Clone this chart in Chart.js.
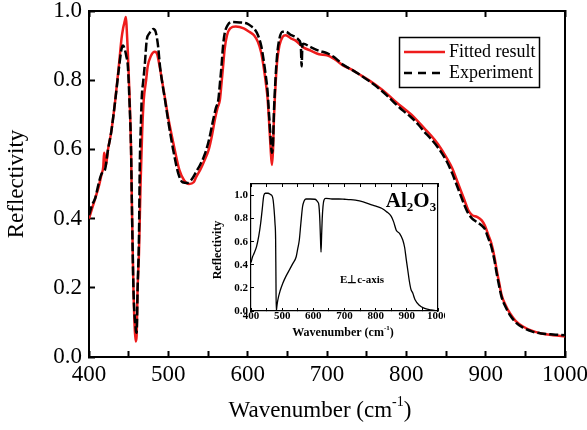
<!DOCTYPE html>
<html>
<head>
<meta charset="utf-8">
<script src="https://cdn.jsdelivr.net/npm/chart.js@4.4.1/dist/chart.umd.min.js"></script>
<style>
  body { margin: 0; background: #fff; }
  #wrap { position: relative; width: 587px; height: 430px; }
  #mainChart { position: absolute; left: 0; top: 0; }
  #insetChart { position: absolute; left: 205px; top: 178px; }
</style>
</head>
<body>
<div id="wrap">
  <canvas id="mainChart" width="587" height="430"></canvas>
  <canvas id="insetChart" width="240" height="165"></canvas>
</div>
<script>
    // Experiment (black dashed)
    const expWave = [400, 404, 408, 412, 416, 420, 424, 428, 433, 438, 441, 443, 445, 447, 449, 451, 453, 454, 456, 459, 460, 461.3, 463, 464, 465.5, 466.5, 468.5, 470.5, 472.7, 476, 481, 484, 487, 489.5, 492.5, 495.8, 500, 506, 512.6, 518, 524, 530, 535, 540, 545, 548, 552, 556, 560, 563, 565, 567, 569, 571, 575, 580, 590, 600, 605, 608, 613, 617, 620, 623, 625, 627, 629, 630.5, 632, 633, 635, 637, 640, 644, 648, 655, 660, 665, 667, 668, 669, 670, 680, 690, 700, 710, 720, 730, 740, 754, 765, 775, 788, 797, 805, 815, 823, 830, 840, 851, 858, 863, 868, 873, 878, 883, 889, 895, 899, 903, 907, 911, 914, 917, 920, 925, 931, 938, 947, 958, 970, 985, 1000];
    const expRefl = [0.41, 0.44, 0.46, 0.50, 0.53, 0.54, 0.60, 0.65, 0.74, 0.84, 0.89, 0.90, 0.89, 0.87, 0.84, 0.74, 0.60, 0.45, 0.20, 0.08, 0.07, 0.20, 0.35, 0.55, 0.68, 0.75, 0.80, 0.85, 0.915, 0.935, 0.948, 0.94, 0.90, 0.84, 0.79, 0.743, 0.68, 0.60, 0.53, 0.505, 0.503, 0.515, 0.535, 0.555, 0.58, 0.60, 0.635, 0.68, 0.72, 0.743, 0.79, 0.84, 0.90, 0.935, 0.96, 0.968, 0.967, 0.963, 0.955, 0.95, 0.93, 0.90, 0.86, 0.81, 0.77, 0.70, 0.63, 0.59, 0.62, 0.70, 0.80, 0.87, 0.92, 0.94, 0.94, 0.93, 0.925, 0.915, 0.90, 0.84, 0.90, 0.905, 0.895, 0.885, 0.878, 0.865, 0.845, 0.832, 0.818, 0.796, 0.777, 0.757, 0.728, 0.71, 0.695, 0.672, 0.65, 0.633, 0.605, 0.565, 0.53, 0.50, 0.47, 0.44, 0.415, 0.40, 0.39, 0.38, 0.37, 0.345, 0.32, 0.28, 0.24, 0.205, 0.174, 0.145, 0.12, 0.10, 0.085, 0.074, 0.068, 0.065, 0.063];

    // Fitted result (red solid)
    const fitWave = [400, 404, 408, 412, 416, 418, 419, 420, 421, 424, 428, 433, 438, 441, 443, 445, 446.5, 447.5, 449, 451, 453, 454, 456, 459, 460, 461.3, 463, 465, 467, 469, 472, 474, 478, 483, 486, 489, 492, 496, 500, 508, 514, 520, 526, 532, 535, 540, 545, 551, 555, 559, 562, 565, 567, 569, 571, 574, 578, 585, 595, 602, 608, 613, 617, 620, 623, 625, 627, 629, 630.5, 632, 633, 635, 637, 640, 644, 648, 655, 660, 665, 670, 680, 690, 700, 710, 720, 730, 740, 754, 765, 775, 788, 797, 805, 815, 823, 830, 840, 851, 858, 863, 868, 873, 878, 883, 889, 895, 899, 903, 907, 911, 914, 917, 920, 925, 931, 938, 947, 958, 970, 985, 1000];
    const fitRefl = [0.40, 0.43, 0.46, 0.49, 0.53, 0.55, 0.59, 0.58, 0.55, 0.60, 0.65, 0.74, 0.85, 0.92, 0.95, 0.97, 0.983, 0.95, 0.88, 0.76, 0.60, 0.45, 0.20, 0.045, 0.06, 0.20, 0.30, 0.50, 0.65, 0.743, 0.80, 0.84, 0.87, 0.882, 0.875, 0.84, 0.80, 0.745, 0.69, 0.60, 0.54, 0.51, 0.50, 0.505, 0.52, 0.54, 0.565, 0.60, 0.64, 0.69, 0.72, 0.743, 0.79, 0.84, 0.89, 0.93, 0.95, 0.955, 0.95, 0.94, 0.93, 0.91, 0.88, 0.84, 0.79, 0.75, 0.68, 0.60, 0.555, 0.60, 0.68, 0.78, 0.85, 0.90, 0.925, 0.93, 0.92, 0.915, 0.905, 0.895, 0.885, 0.875, 0.872, 0.86, 0.843, 0.832, 0.818, 0.798, 0.78, 0.762, 0.735, 0.718, 0.703, 0.68, 0.66, 0.643, 0.615, 0.575, 0.545, 0.515, 0.485, 0.455, 0.425, 0.41, 0.405, 0.395, 0.38, 0.355, 0.33, 0.29, 0.25, 0.215, 0.18, 0.15, 0.125, 0.104, 0.088, 0.076, 0.068, 0.063, 0.06];

    // Inset: E perpendicular to c-axis reference spectrum
    const insetWave = [400, 405, 410, 418, 425, 431, 436, 441, 446, 455, 462, 467, 470.5, 474, 477, 479, 480, 481, 483, 486, 494, 502, 512, 523, 534, 545, 550, 555, 560, 565.5, 570, 576, 590, 605, 610, 614, 617, 619, 621, 623, 624.7, 626.5, 628.5, 631, 634, 640, 660, 682, 700, 720, 735, 760, 787, 805, 819, 835, 850, 858, 866, 877, 887, 893, 898, 903, 908, 913, 919, 926, 940, 955, 977, 1000];
    const insetRefl = [0.42, 0.47, 0.50, 0.56, 0.65, 0.76, 0.88, 1.0, 1.02, 1.02, 1.01, 1.0, 0.97, 0.88, 0.76, 0.62, 0.30, 0.0, 0.04, 0.095, 0.18, 0.24, 0.30, 0.355, 0.41, 0.47, 0.54, 0.615, 0.76, 0.905, 0.95, 0.97, 0.97, 0.968, 0.96, 0.945, 0.93, 0.88, 0.78, 0.62, 0.51, 0.65, 0.80, 0.905, 0.96, 0.975, 0.97, 0.97, 0.968, 0.965, 0.96, 0.945, 0.92, 0.905, 0.89, 0.86, 0.82, 0.77, 0.70, 0.67, 0.615, 0.55, 0.45, 0.355, 0.26, 0.19, 0.155, 0.10, 0.05, 0.025, 0.01, 0.0];

    const SERIF = '"Liberation Serif", "Times New Roman", serif';
    const RED = '#ee1c1c';

    function toPoints(xs, ys) {
        return xs.map((x, i) => ({ x: x, y: ys[i] }));
    }

    // draw text made of pieces, some raised (sup) or lowered (sub)
    function drawRich(ctx, parts, cx, cy, size, weight) {
        const small = Math.round(size * 0.62);
        let total = 0;
        parts.forEach(p => {
            ctx.font = `${weight} ${p.sup || p.sub ? small : size}px ${SERIF}`;
            p.w = ctx.measureText(p.t).width;
            total += p.w;
        });
        let x = cx - total / 2;
        ctx.textAlign = 'left';
        ctx.textBaseline = 'middle';
        parts.forEach(p => {
            ctx.font = `${weight} ${p.sup || p.sub ? small : size}px ${SERIF}`;
            let y = cy;
            if (p.sup) y = cy - size * 0.38;
            if (p.sub) y = cy + size * 0.28;
            ctx.fillText(p.t, x, y);
            x += p.w;
        });
    }

    const mainDecor = {
        id: 'mainDecor',
        afterDraw(chart) {
            const ctx = chart.ctx;
            ctx.save();
            ctx.fillStyle = '#000';
            // axis titles
            drawRich(ctx, [{ t: 'Wavenumber (cm' }, { t: '-1', sup: true }, { t: ')' }], 320, 411, 23, 'normal');
            ctx.translate(17, 184);
            ctx.rotate(-Math.PI / 2);
            ctx.font = `23px ${SERIF}`;
            ctx.textAlign = 'center';
            ctx.textBaseline = 'middle';
            ctx.fillText('Reflectivity', 0, 0);
            ctx.restore();

            // legend box
            const ds = chart.data.datasets;
            ctx.save();
            ctx.strokeStyle = '#000';
            ctx.lineWidth = 1.5;
            ctx.strokeRect(399.5, 37.5, 140, 50);
            const rows = [ds[1], ds[0]];
            rows.forEach((d, i) => {
                const y = 52 + i * 21;
                ctx.beginPath();
                ctx.strokeStyle = d.borderColor;
                ctx.lineWidth = 2.5;
                ctx.setLineDash(d.borderDash ? [8, 6] : []);
                ctx.moveTo(404, y);
                ctx.lineTo(445, y);
                ctx.stroke();
                ctx.setLineDash([]);
                ctx.fillStyle = '#000';
                ctx.font = `18px ${SERIF}`;
                ctx.textAlign = 'left';
                ctx.textBaseline = 'middle';
                ctx.fillText(d.label, 449, y);
            });
            ctx.restore();
        }
    };

    const axisFont = { family: SERIF, size: 23 };

    new Chart(document.getElementById('mainChart'), {
        type: 'line',
        data: {
            datasets: [
                {
                    label: 'Experiment',
                    data: toPoints(expWave, expRefl),
                    borderColor: '#000',
                    borderWidth: 2.5,
                    borderDash: [9, 3],
                    pointRadius: 0,
                    cubicInterpolationMode: 'monotone',
                    xAxisID: 'x',
                    yAxisID: 'y'
                },
                {
                    label: 'Fitted result',
                    data: toPoints(fitWave, fitRefl),
                    borderColor: RED,
                    borderWidth: 2.5,
                    pointRadius: 0,
                    cubicInterpolationMode: 'monotone',
                    xAxisID: 'x',
                    yAxisID: 'y'
                }
            ]
        },
        options: {
            responsive: false,
            animation: false,
            layout: { padding: { left: 0, top: 11, right: 22, bottom: 0 } },
            plugins: { legend: { display: false }, tooltip: { enabled: false } },
            scales: {
                x: {
                    type: 'linear',
                    position: 'bottom',
                    min: 400,
                    max: 1000,
                    ticks: {
                        stepSize: 50,
                        autoSkip: false,
                        maxRotation: 0,
                        padding: 10,
                        color: '#000',
                        font: axisFont,
                        callback: v => (v % 100 === 0 ? String(v) : '')
                    },
                    grid: { drawOnChartArea: false, tickLength: -6, tickColor: '#000', tickWidth: 2 },
                    border: { color: '#000', width: 2 },
                    afterFit: s => { s.height = 73; s.paddingLeft = 0; s.paddingRight = 0; }
                },
                y: {
                    type: 'linear',
                    position: 'left',
                    min: 0,
                    max: 1,
                    ticks: {
                        stepSize: 0.2,
                        padding: 13,
                        color: '#000',
                        font: axisFont,
                        callback: v => v.toFixed(1)
                    },
                    grid: { drawOnChartArea: false, tickLength: -6, tickColor: '#000', tickWidth: 2 },
                    border: { color: '#000', width: 2 },
                    afterFit: s => { s.width = 89; s.paddingTop = 0; s.paddingBottom = 0; }
                },
                x2: {
                    type: 'linear',
                    position: 'top',
                    min: 400,
                    max: 1000,
                    ticks: { stepSize: 100, display: false },
                    grid: { drawOnChartArea: false, tickLength: -6, tickColor: '#000', tickWidth: 2 },
                    border: { color: '#000', width: 2 },
                    afterFit: s => { s.height = 0; }
                },
                y2: {
                    type: 'linear',
                    position: 'right',
                    min: 0,
                    max: 1,
                    ticks: { display: false },
                    grid: { display: false },
                    border: { color: '#000', width: 2 },
                    afterFit: s => { s.width = 0; }
                }
            }
        },
        plugins: [mainDecor]
    });

    // ---- inset ----
    const insetDecor = {
        id: 'insetDecor',
        afterDraw(chart) {
            const ctx = chart.ctx;
            ctx.save();
            ctx.fillStyle = '#000';
            drawRich(ctx, [{ t: 'Wavenumber (cm' }, { t: '-1', sup: true }, { t: ')' }], 138, 155, 12, 'bold');
            drawRich(ctx, [{ t: 'Al' }, { t: '2', sub: true }, { t: 'O' }, { t: '3', sub: true }], 206, 24, 21, 'bold');
            ctx.font = `bold 11px ${SERIF}`;
            ctx.textAlign = 'center';
            ctx.textBaseline = 'middle';
            ctx.fillText('E\u22A5c-axis', 157, 102);
            ctx.translate(13, 72);
            ctx.rotate(-Math.PI / 2);
            ctx.font = `bold 12px ${SERIF}`;
            ctx.fillText('Reflectivity', 0, 0);
            ctx.restore();
        }
    };

    const insetFont = { family: SERIF, size: 11, weight: 'bold' };

    new Chart(document.getElementById('insetChart'), {
        type: 'line',
        data: {
            datasets: [{
                label: 'Al2O3',
                data: toPoints(insetWave, insetRefl),
                borderColor: '#000',
                borderWidth: 1.3,
                pointRadius: 0,
                cubicInterpolationMode: 'monotone',
                xAxisID: 'x',
                yAxisID: 'y'
            }]
        },
        options: {
            responsive: false,
            animation: false,
            layout: { padding: { left: 0, top: 6, right: 7, bottom: 0 } },
            plugins: { legend: { display: false }, tooltip: { enabled: false } },
            scales: {
                x: {
                    type: 'linear',
                    position: 'bottom',
                    min: 400,
                    max: 1000,
                    ticks: {
                        stepSize: 50,
                        autoSkip: false,
                        maxRotation: 0,
                        padding: 2,
                        color: '#000',
                        font: insetFont,
                        callback: v => (v % 100 === 0 ? String(v) : '')
                    },
                    grid: { drawOnChartArea: false, tickLength: -3, tickColor: '#000', tickWidth: 1 },
                    border: { color: '#000', width: 1.2 },
                    afterFit: s => { s.height = 32; s.paddingLeft = 0; s.paddingRight = 0; }
                },
                y: {
                    type: 'linear',
                    position: 'left',
                    min: 0,
                    max: 1.1,
                    ticks: {
                        stepSize: 0.2,
                        includeBounds: false,
                        padding: 6,
                        color: '#000',
                        font: insetFont,
                        callback: v => v.toFixed(1)
                    },
                    grid: { drawOnChartArea: false, tickLength: -3, tickColor: '#000', tickWidth: 1 },
                    border: { color: '#000', width: 1.2 },
                    afterFit: s => { s.width = 46; s.paddingTop = 0; s.paddingBottom = 0; }
                },
                x2: {
                    type: 'linear',
                    position: 'top',
                    min: 400,
                    max: 1000,
                    ticks: { stepSize: 50, display: false },
                    grid: { drawOnChartArea: false, tickLength: -3, tickColor: '#000', tickWidth: 1 },
                    border: { color: '#000', width: 1.2 },
                    afterFit: s => { s.height = 0; }
                },
                y2: {
                    type: 'linear',
                    position: 'right',
                    min: 0,
                    max: 1.1,
                    ticks: { display: false },
                    grid: { display: false },
                    border: { color: '#000', width: 1.2 },
                    afterFit: s => { s.width = 0; }
                }
            }
        },
        plugins: [insetDecor]
    });
</script>
</body>
</html>
